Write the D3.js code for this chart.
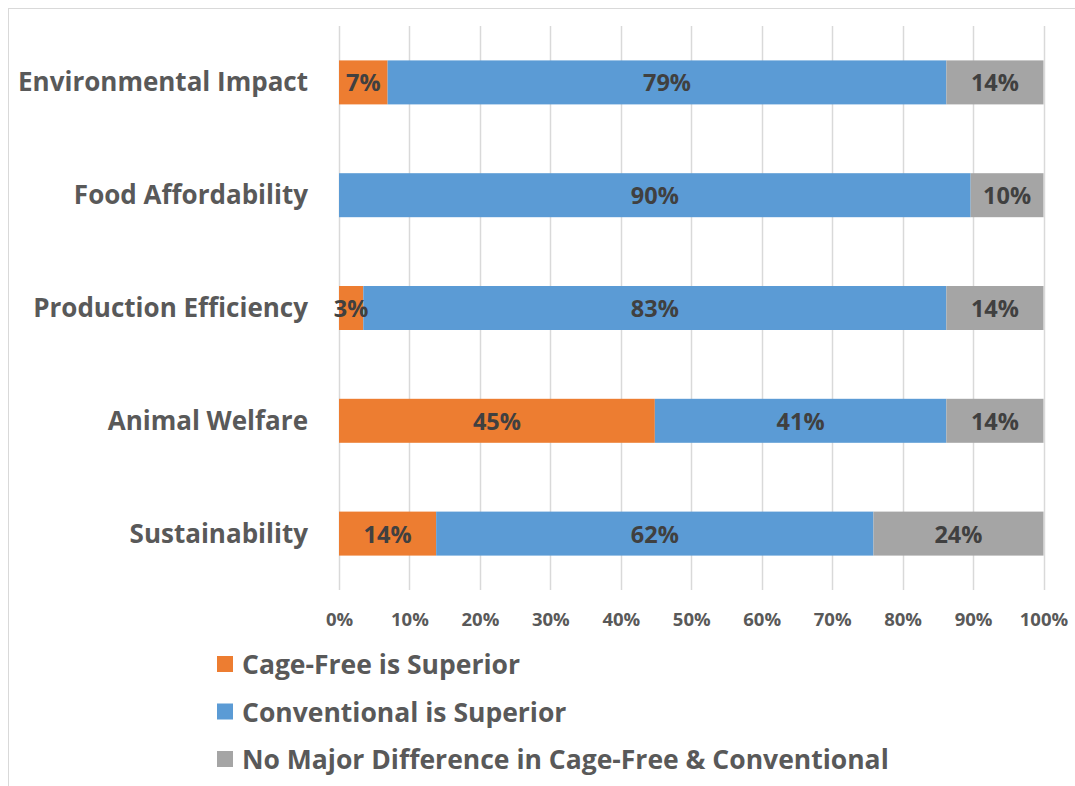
<!DOCTYPE html>
<html>
<head>
<meta charset="utf-8">
<script src="https://cdn.jsdelivr.net/npm/d3@7"></script>
<style>
  html, body { margin: 0; padding: 0; background: #fff; }
  svg { display: block; font-family: "Open Sans", "Liberation Sans", sans-serif; }
</style>
</head>
<body>
<svg id="chart" width="1075" height="786"></svg>
<script>
const categories = ["Environmental Impact", "Food Affordability", "Production Efficiency", "Animal Welfare", "Sustainability"];
const seriesNames = ["Cage-Free is Superior", "Conventional is Superior", "No Major Difference in Cage-Free & Conventional"];
const cageFree     = [6.9, 0, 3.45, 44.83, 13.79];
const conventional = [79.31, 89.66, 82.76, 41.38, 62.07];
const noDifference = [13.79, 10.34, 13.79, 13.79, 24.14];
const tickValues = [0, 10, 20, 30, 40, 50, 60, 70, 80, 90, 100];
const colors = ["#ED7D31", "#5B9BD5", "#A5A5A5"];

const svg = d3.select("#chart");
const W = 1075, H = 786;

// outer frame (top and left edges visible)
svg.append("rect").attr("x", 8.5).attr("y", 8.5).attr("width", W + 20).attr("height", H + 20)
  .attr("fill", "none").attr("stroke", "#d9d9d9").attr("stroke-width", 1);

const plot = { left: 339, right: 1043.5, top: 26, bottom: 590 };
const x = d3.scaleLinear().domain([0, 100]).range([plot.left, plot.right]);
const y = d3.scaleBand().domain(categories).range([plot.top, plot.bottom]).paddingInner(0.61).paddingOuter(0.305);

// gridlines
svg.append("g").selectAll("line").data(tickValues).join("line")
  .attr("x1", d => Math.round(x(d)) + 0.5).attr("x2", d => Math.round(x(d)) + 0.5)
  .attr("y1", plot.top).attr("y2", plot.bottom)
  .attr("stroke", "#d9d9d9").attr("stroke-width", 1.5);

// x axis tick labels
const xAxis = d3.axisBottom(x).tickValues(tickValues).tickFormat(d => d + "%").tickSize(0).tickPadding(0);
const gx = svg.append("g").attr("transform", `translate(0, ${plot.bottom})`).call(xAxis);
gx.select(".domain").remove();
gx.selectAll("text").attr("dy", null).attr("y", 28).attr("dominant-baseline", "central")
  .attr("font-size", 18.5).attr("font-weight", 700).attr("fill", "#595959")
  .attr("font-family", "'Open Sans', sans-serif");

// stacked data
const rows = categories.map((c, i) => ({ cat: c, s0: cageFree[i], s1: conventional[i], s2: noDifference[i] }));
const stack = d3.stack().keys(["s0", "s1", "s2"]);
const stacked = stack(rows);

const layers = svg.append("g").selectAll("g").data(stacked).join("g")
  .attr("fill", (d, i) => colors[i]);

layers.selectAll("rect").data(d => d).join("rect")
  .attr("x", d => x(d[0])).attr("width", d => x(d[1]) - x(d[0]))
  .attr("y", d => y(d.data.cat)).attr("height", y.bandwidth());

// data labels
const fmt = v => Math.round(v) + "%";
svg.append("g").selectAll("g").data(stacked).join("g")
  .selectAll("text").data(d => d.filter(p => p[1] - p[0] > 0)).join("text")
  .attr("x", d => (x(d[0]) + x(d[1])) / 2)
  .attr("y", d => y(d.data.cat) + y.bandwidth() / 2)
  .attr("text-anchor", "middle").attr("dominant-baseline", "central")
  .attr("font-size", 23.5).attr("font-weight", 700).attr("fill", "#404040")
  .text(d => fmt(d[1] - d[0]));

// category labels
const yAxis = d3.axisLeft(y).tickSize(0).tickPadding(0);
const gy = svg.append("g").attr("transform", `translate(308, 0)`).call(yAxis);
gy.select(".domain").remove();
gy.selectAll("text").attr("dy", null).attr("x", 0).attr("y", -1).attr("dominant-baseline", "central")
  .attr("font-size", 26).attr("font-weight", 700).attr("fill", "#595959")
  .attr("font-family", "'Open Sans', sans-serif");

// legend
const legendY = [664, 711.5, 759];
const lg = svg.append("g").selectAll("g").data(seriesNames).join("g")
  .attr("transform", (d, i) => `translate(217, ${legendY[i]})`);
lg.append("rect").attr("x", 0).attr("y", -8).attr("width", 16).attr("height", 16)
  .attr("fill", (d, i) => colors[i]);
lg.append("text").attr("x", 25).attr("y", 0).attr("dominant-baseline", "central")
  .attr("font-size", 26.5).attr("font-weight", 700).attr("fill", "#595959")
  .text(d => d);
</script>
</body>
</html>
